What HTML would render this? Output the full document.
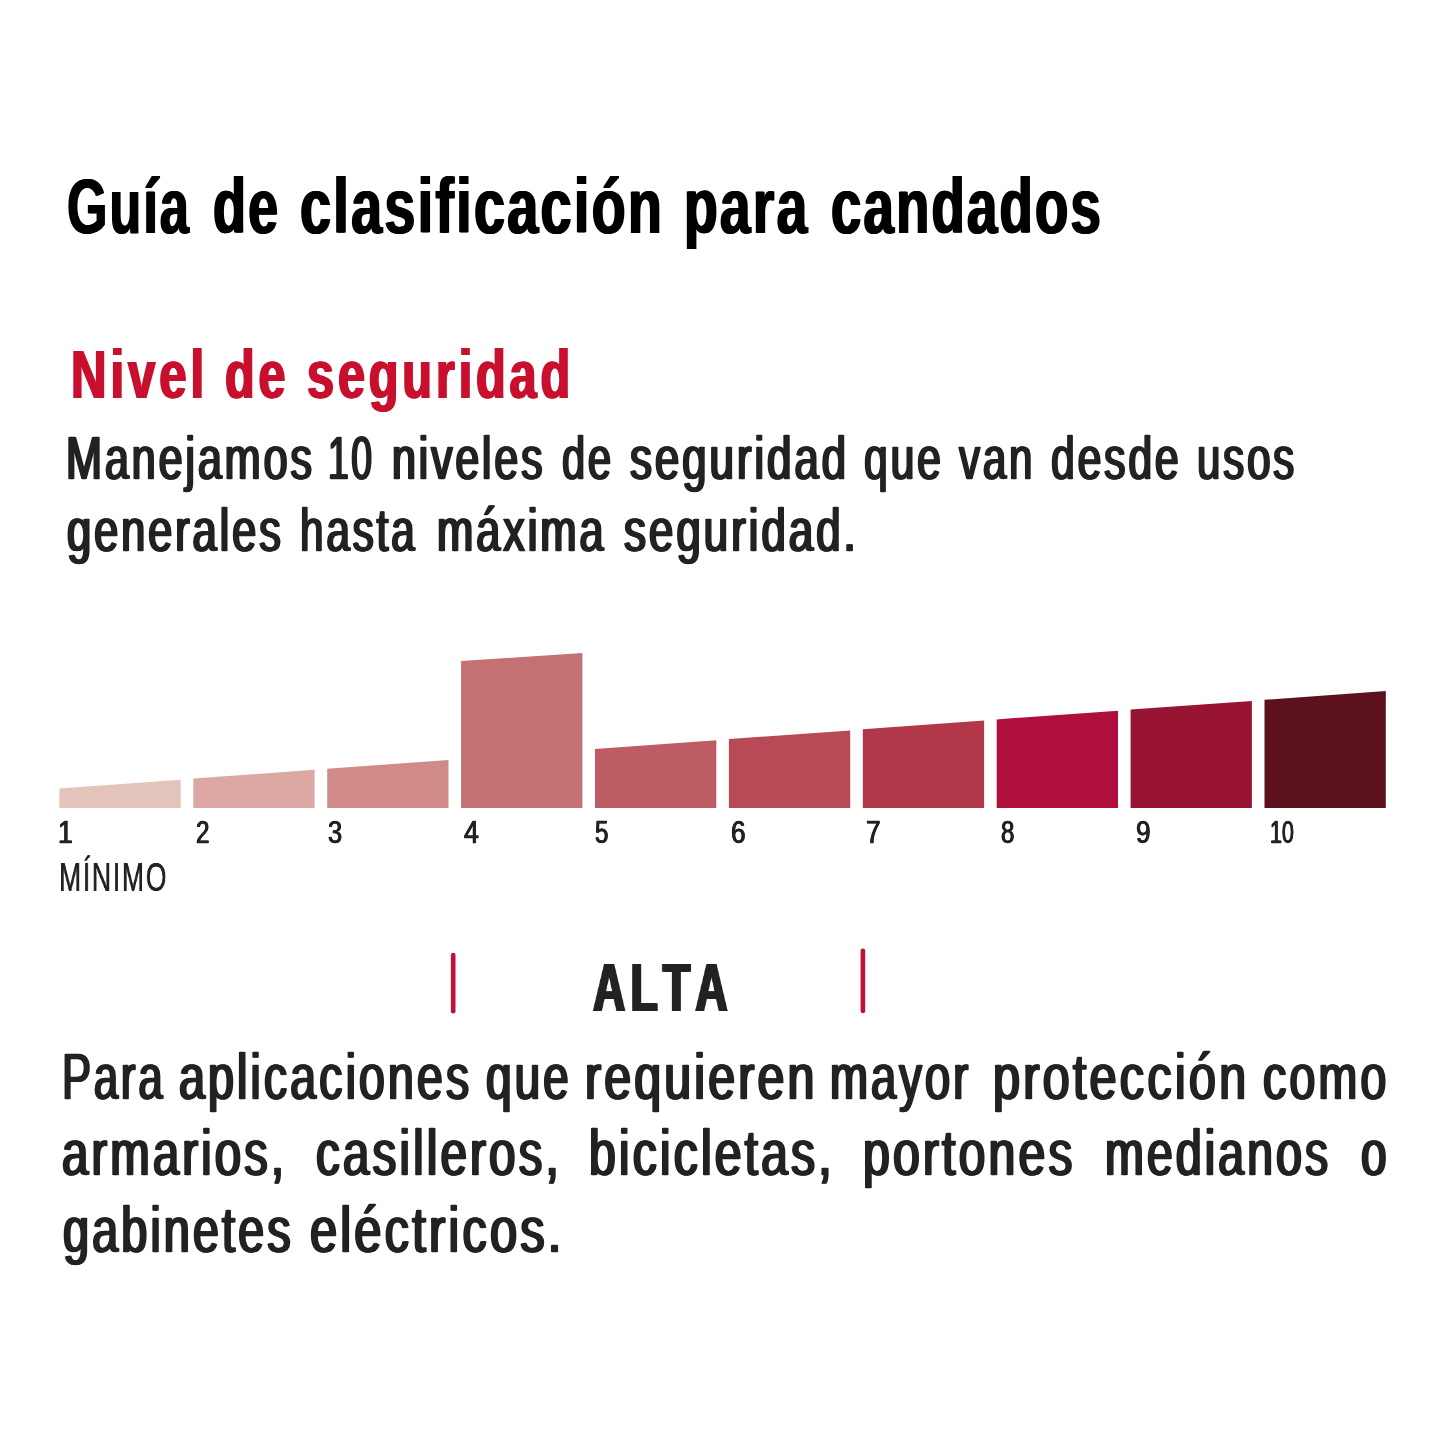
<!DOCTYPE html>
<html lang="es">
<head>
<meta charset="utf-8">
<title>Guía de clasificación para candados</title>
<style>
html,body{margin:0;padding:0;background:#ffffff;}
body{width:1445px;height:1445px;position:relative;overflow:hidden;font-family:"Liberation Sans",sans-serif;}
.ln{position:absolute;left:0;top:0;margin:0;white-space:nowrap;line-height:1;will-change:transform;}
.ln span{position:absolute;top:0;display:block;transform-origin:0 0;white-space:pre;}
svg{position:absolute;left:0;top:0;}
.title{font-size:78.20px;font-weight:bold;color:#000000;text-shadow:1.28px 0 0 currentColor,-1.28px 0 0 currentColor;letter-spacing:3.20px;}
.heading{font-size:69.04px;font-weight:bold;color:#c8102e;text-shadow:1.40px 0 0 currentColor,-1.40px 0 0 currentColor;letter-spacing:5.50px;}
.body{font-size:60.76px;font-weight:normal;color:#222222;text-shadow:1.60px 0 0 currentColor,-1.60px 0 0 currentColor;-webkit-text-stroke:0.60px currentColor;letter-spacing:4.00px;}
.tick{font-size:31.40px;font-weight:normal;color:#222222;text-shadow:0.55px 0 0 currentColor,-0.55px 0 0 currentColor;-webkit-text-stroke:0.40px currentColor;}
.min{font-size:39.97px;font-weight:normal;color:#222222;text-shadow:0.23px 0 0 currentColor,-0.23px 0 0 currentColor;letter-spacing:2.60px;}
.alta{font-size:68.90px;font-weight:bold;color:#222222;text-shadow:1.98px 0 0 currentColor,-1.98px 0 0 currentColor;letter-spacing:8.00px;font-kerning:none;}
.desc{font-size:64.68px;font-weight:normal;color:#222222;text-shadow:1.62px 0 0 currentColor,-1.62px 0 0 currentColor;-webkit-text-stroke:0.60px currentColor;letter-spacing:4.20px;}
</style>
</head>
<body>
<h1 class="ln title" style="top:166.61px"><span style="left:67.05px;transform:scaleX(0.6639)">Guía </span><span style="left:213.17px;transform:scaleX(0.6894)">de </span><span style="left:300.34px;transform:scaleX(0.7128)">clasificación </span><span style="left:683.98px;transform:scaleX(0.7052)">para </span><span style="left:831.17px;transform:scaleX(0.6964)">candados</span></h1>
<h2 class="ln heading" style="top:339.56px"><span style="left:70.60px;transform:scaleX(0.7121)">Nivel </span><span style="left:224.79px;transform:scaleX(0.7022)">de </span><span style="left:307.30px;transform:scaleX(0.7038)">seguridad</span></h2>
<p class="ln body" style="top:427.67px"><span style="left:66.46px;transform:scaleX(0.7110)">Manejamos </span><span style="left:328.13px;transform:scaleX(0.6143)">10 </span><span style="left:391.83px;transform:scaleX(0.7061)">niveles </span><span style="left:562.49px;transform:scaleX(0.6855)">de </span><span style="left:630.35px;transform:scaleX(0.7231)">seguridad </span><span style="left:864.30px;transform:scaleX(0.7020)">que </span><span style="left:959.29px;transform:scaleX(0.6929)">van </span><span style="left:1050.96px;transform:scaleX(0.7029)">desde </span><span style="left:1196.51px;transform:scaleX(0.6933)">usos</span></p>
<p class="ln body" style="top:499.57px"><span style="left:67.49px;transform:scaleX(0.7156)">generales </span><span style="left:299.81px;transform:scaleX(0.6960)">hasta </span><span style="left:436.64px;transform:scaleX(0.7158)">máxima </span><span style="left:623.82px;transform:scaleX(0.7249)">seguridad.</span></p>
<svg width="1445" height="1445" viewBox="0 0 1445 1445">
<polygon fill="#e3c4bb" points="59.4,808.0 59.4,788.4 180.7,779.7 180.7,808.0"/>
<polygon fill="#dba8a4" points="193.3,808.0 193.3,778.5 314.6,769.8 314.6,808.0"/>
<polygon fill="#d08b88" points="327.2,808.0 327.2,768.7 448.5,760.0 448.5,808.0"/>
<polygon fill="#c47173" points="461.1,808.0 461.1,661.1 582.4,652.9 582.4,808.0"/>
<polygon fill="#bd5d63" points="595.0,808.0 595.0,749.0 716.3,740.3 716.3,808.0"/>
<polygon fill="#b74a55" points="728.9,808.0 728.9,739.1 850.2,730.4 850.2,808.0"/>
<polygon fill="#b13848" points="862.8,808.0 862.8,729.3 984.1,720.6 984.1,808.0"/>
<polygon fill="#ae0f3c" points="996.7,808.0 996.7,719.4 1118.0,710.7 1118.0,808.0"/>
<polygon fill="#991332" points="1130.6,808.0 1130.6,709.6 1251.9,700.9 1251.9,808.0"/>
<polygon fill="#5c111c" points="1264.5,808.0 1264.5,699.8 1385.8,691.0 1385.8,808.0"/>
<line x1="453.2" y1="955.1" x2="453.2" y2="1011.2" stroke="#c01033" stroke-width="4.6" stroke-linecap="round"/>
<line x1="862.9" y1="950.8" x2="862.9" y2="1011.0" stroke="#c01033" stroke-width="4.6" stroke-linecap="round"/>
</svg>
<p class="ln tick" style="top:816.92px"><span style="left:57.82px;transform:scaleX(0.8500)">1 </span><span style="left:196.12px;transform:scaleX(0.7702)">2 </span><span style="left:328.15px;transform:scaleX(0.8086)">3 </span><span style="left:463.88px;transform:scaleX(0.8491)">4 </span><span style="left:595.31px;transform:scaleX(0.7667)">5 </span><span style="left:731.23px;transform:scaleX(0.8331)">6 </span><span style="left:865.72px;transform:scaleX(0.8331)">7 </span><span style="left:1000.99px;transform:scaleX(0.7667)">8 </span><span style="left:1135.89px;transform:scaleX(0.8331)">9 </span><span style="left:1270.00px;transform:scaleX(0.6835)">10</span></p>
<p class="ln min" style="top:857.66px"><span style="left:59.08px;transform:scaleX(0.6642)">MÍNIMO</span></p>
<p class="ln alta" style="top:953.98px"><span style="left:592.88px;transform:scaleX(0.6477)">ALTA</span></p>
<p class="ln desc" style="top:1044.85px"><span style="left:61.74px;transform:scaleX(0.6738)">Para </span><span style="left:179.40px;transform:scaleX(0.7219)">aplicaciones </span><span style="left:486.25px;transform:scaleX(0.7113)">que </span><span style="left:584.88px;transform:scaleX(0.7475)">requieren </span><span style="left:829.80px;transform:scaleX(0.7043)">mayor </span><span style="left:993.04px;transform:scaleX(0.7532)">protección </span><span style="left:1263.44px;transform:scaleX(0.7227)">como</span></p>
<p class="ln desc" style="top:1121.45px"><span style="left:62.08px;transform:scaleX(0.7326)">armarios, </span><span style="left:315.89px;transform:scaleX(0.7367)">casilleros, </span><span style="left:589.06px;transform:scaleX(0.7443)">bicicletas, </span><span style="left:863.25px;transform:scaleX(0.7454)">portones </span><span style="left:1104.79px;transform:scaleX(0.7206)">medianos </span><span style="left:1361.27px;transform:scaleX(0.7109)">o</span></p>
<p class="ln desc" style="top:1198.15px"><span style="left:62.78px;transform:scaleX(0.7248)">gabinetes </span><span style="left:310.05px;transform:scaleX(0.7547)">eléctricos.</span></p>
</body>
</html>
